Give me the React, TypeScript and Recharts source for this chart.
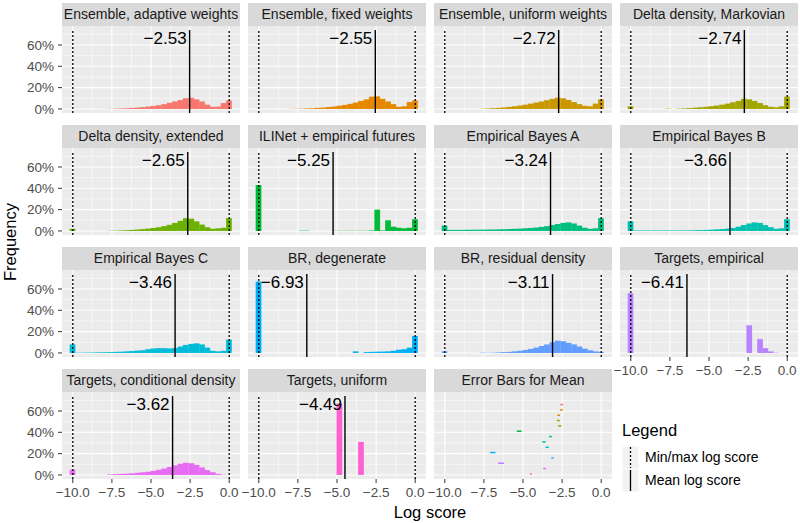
import React from "react";
import {
  ComposedChart,
  Bar,
  XAxis,
  YAxis,
  CartesianGrid,
  ReferenceLine,
  ReferenceDot,
} from "recharts";

// bin centres shared by every histogram (30 bins over [-10, 0])
const binCenters = [
  -10, -9.66, -9.31, -8.97, -8.62, -8.28, -7.93, -7.59, -7.24, -6.9, -6.55, -6.21, -5.86, -5.52, -5.17,
  -4.83, -4.48, -4.14, -3.79, -3.45, -3.1, -2.76, -2.41, -2.07, -1.72, -1.38, -1.03, -0.69, -0.34, 0,
];

const modelNames = [
  "Ensemble, adaptive weights",
  "Ensemble, fixed weights",
  "Ensemble, uniform weights",
  "Delta density, Markovian",
  "Delta density, extended",
  "ILINet + empirical futures",
  "Empirical Bayes A",
  "Empirical Bayes B",
  "Empirical Bayes C",
  "BR, degenerate",
  "BR, residual density",
  "Targets, empirical",
  "Targets, conditional density",
  "Targets, uniform",
];

const meanScores = [-2.53, -2.55, -2.72, -2.74, -2.65, -5.25, -3.24, -3.66, -3.46, -6.93, -3.11, -6.41, -3.62, -4.49];

const modelColors = [
  "#F8766D", "#E58700", "#C99800", "#A3A500", "#6BB100", "#00BA38", "#00BF7D",
  "#00C0AF", "#00BCD8", "#00B0F6", "#619CFF", "#B983FF", "#E76BF3", "#FD61D1",
];

// frequency per bin, percent
const adaptiveWeights = [0, 0, 0, 0, 0, 0, 0.1, 0.2, 0.3, 0.5, 0.7, 1.0, 1.3, 1.7, 2.2, 2.8, 3.5, 4.5, 5.8, 7.0, 8.3, 10.0, 10.5, 9.0, 7.0, 4.0, 2.0, 2.2, 5.5, 8.0];
const fixedWeights = [0, 0, 0, 0, 0, 0, 0.1, 0.2, 0.3, 0.5, 0.7, 1.0, 1.3, 1.8, 2.3, 3.0, 3.8, 4.8, 6.0, 7.5, 9.0, 11.5, 11.8, 9.5, 7.0, 4.5, 2.0, 2.5, 6.5, 8.0];
const uniformWeights = [0, 0, 0, 0, 0, 0, 0, 0.2, 0.4, 0.7, 1.0, 1.4, 1.9, 2.5, 3.2, 4.0, 5.0, 6.0, 7.0, 8.2, 9.5, 10.5, 10.0, 8.5, 6.5, 4.5, 3.0, 2.5, 5.0, 9.0];
const deltaMarkovian = [2.5, 0, 0, 0, 0, 0, 0, 0.3, 0, 0.3, 0.5, 0.8, 1.2, 1.6, 2.0, 2.6, 3.2, 4.0, 5.0, 6.2, 7.5, 9.5, 9.0, 7.5, 5.5, 3.5, 2.0, 1.5, 2.5, 11.5];
const deltaExtended = [2, 0, 0, 0, 0, 0, 0, 0.2, 0.3, 0.5, 0.7, 1.0, 1.3, 1.7, 2.2, 2.8, 3.5, 4.5, 5.8, 7.5, 9.5, 12.0, 11.5, 9.0, 6.0, 3.5, 2.0, 2.5, 3.0, 12.0];
const ilinetFutures = [43, 0, 0, 0, 0, 0, 0, 0, 0.3, 0.3, 0, 0, 0, 0, 0.2, 0.2, 0.2, 0.2, 0.2, 0.2, 0.2, 0.5, 20, 0.5, 10, 4, 3, 2.5, 3, 11];
const empiricalBayesA = [5, 1.0, 1.0, 1.0, 1.1, 1.1, 1.2, 1.2, 1.3, 1.4, 1.5, 1.6, 1.8, 2.0, 2.2, 2.5, 2.8, 3.2, 3.8, 4.5, 5.5, 6.5, 7.5, 8.0, 7.0, 5.0, 3.0, 2.0, 2.5, 12.0];
const empiricalBayesB = [9, 0.5, 0.5, 0.5, 0.5, 0.5, 0.5, 0.5, 0.5, 0.5, 0.5, 0.6, 0.7, 0.8, 1.0, 1.2, 1.5, 1.8, 2.2, 2.8, 4.0, 5.5, 7.0, 8.0, 7.5, 5.5, 3.5, 2.0, 2.5, 11];
const empiricalBayesC = [8, 0.3, 0.3, 0.4, 0.5, 0.6, 0.7, 0.8, 1.0, 1.2, 1.5, 1.8, 2.2, 2.5, 3.5, 4.2, 4.5, 4.5, 4.2, 4.5, 6.0, 7.5, 8.5, 9.0, 8.0, 5.0, 2.0, 1.5, 2.0, 12.5];
const brDegenerate = [67, 0, 0, 0, 0, 0, 0, 0, 0, 0, 0, 0, 0, 0, 0, 0, 0, 0, 1.5, 0, 0.8, 1.0, 1.2, 1.3, 1.5, 2.0, 3.0, 3.5, 5.0, 16];
const brResidual = [1.5, 0, 0, 0, 0, 0, 0, 0.3, 0.2, 0.3, 0.5, 0.8, 1.0, 1.5, 2.0, 2.8, 3.8, 5.0, 6.5, 8.0, 10.0, 11.5, 11.0, 9.5, 8.0, 6.0, 4.0, 2.5, 1.5, 1.0];
const targetsEmpirical = [56, 0, 0, 0, 0, 0, 0, 0, 0, 0, 0, 0, 0, 0, 0, 0, 0, 0, 0, 0, 0, 0, 26, 0, 13, 4.5, 1.5, 0.3, 0, 0];
const targetsConditional = [5, 0, 0, 0, 0, 0, 0, 0.5, 0.8, 1.0, 1.2, 1.5, 2.0, 2.5, 3.0, 3.8, 4.8, 6.0, 7.5, 9.0, 10.5, 11.5, 11.0, 9.5, 7.0, 4.5, 2.5, 1.0, 0.3, 0];
const targetsUniform = [0, 0, 0, 0, 0, 0, 0, 0, 0, 0, 0, 0, 0, 0, 0, 67, 0, 0, 0, 31, 0, 0, 0, 0, 0, 0, 0, 0, 0, 0];

const histograms = [
  adaptiveWeights, fixedWeights, uniformWeights, deltaMarkovian, deltaExtended, ilinetFutures,
  empiricalBayesA, empiricalBayesB, empiricalBayesC, brDegenerate, brResidual, targetsEmpirical,
  targetsConditional, targetsUniform,
];

// error bars panel: interval ends and vertical level of each model
const errorLow = [-2.62, -2.64, -2.81, -2.84, -2.75, -5.4, -3.33, -3.77, -3.56, -7.1, -3.19, -6.6, -3.71, -4.55];
const errorHigh = [-2.44, -2.46, -2.63, -2.64, -2.55, -5.1, -3.15, -3.55, -3.36, -6.76, -3.03, -6.22, -3.53, -4.43];
const errorLevel = [0.66, 0.61, 0.56, 0.51, 0.46, 0.41, 0.36, 0.31, 0.26, 0.21, 0.16, 0.11, 0.06, 0.01];

const xTicks = [-10, -7.5, -5, -2.5, 0];
const xMinor = [-8.75, -6.25, -3.75, -1.25];
const yTicks = [0, 0.2, 0.4, 0.6];
const yMinor = [0.1, 0.3, 0.5, 0.7];

const X_DOMAIN: [number, number] = [-10.69, 0.69];
const Y_DOMAIN: [number, number] = [-0.038, 0.778];
const LINE_TOP = 0.74;
const LABEL_Y = 0.67;

const FONT = '"Liberation Sans", Arial, Helvetica, sans-serif';
const COL_LEFT = [62, 248, 434, 620];
const ROW_TOP = [2.5, 124.5, 246.5, 368.5];
const PANEL_W = 178;
const PANEL_H = 87;
const STRIP_H = 23;
const Y_AXIS_W = 62;
const X_AXIS_H = 26;
const PAD_BOTTOM = 9; // room for the "0%" label when there is no x axis
const PAD_SIDE = 20; // room for the end tick labels of an x axis
const BIN_PX = ((10 / 29) * PANEL_W) / (X_DOMAIN[1] - X_DOMAIN[0]);

const minus = (s: string) => s.replace("-", "\u2212");

// histogram bars: recharts shrinks them to 90% of the bin, so widen back to the full bin
function HistBar(props: any) {
  const { x, y, width, height, fill } = props;
  if (!height || height <= 0) return null;
  const cx = x + width / 2;
  const w = BIN_PX + 0.3;
  return <rect x={cx - w / 2} y={y} width={w} height={height} fill={fill} />;
}

function Strip({ col, row, title }: { col: number; row: number; title: string }) {
  return (
    <div
      style={{
        position: "absolute",
        left: COL_LEFT[col],
        top: ROW_TOP[row],
        width: PANEL_W,
        height: STRIP_H,
        background: "#D9D9D9",
        color: "#1A1A1A",
        fontSize: 14,
        display: "flex",
        alignItems: "center",
        justifyContent: "center",
        whiteSpace: "nowrap",
      }}
    >
      {title}
    </div>
  );
}

function Panel({ idx, col, row, showX, showY }: { idx: number; col: number; row: number; showX: boolean; showY: boolean }) {
  const isErrorPanel = idx === 14;
  const values = isErrorPanel ? [] : histograms[idx];
  const data = binCenters.map((x, i) => ({ x, freq: isErrorPanel ? 0 : values[i] / 100 }));
  const color = isErrorPanel ? "#000" : modelColors[idx];
  const padLeft = showY ? 0 : showX ? PAD_SIDE : 0;
  const padRight = showX ? PAD_SIDE : 0;
  const padBottom = showX ? 0 : PAD_BOTTOM;
  const width = PANEL_W + (showY ? Y_AXIS_W : 0) + padLeft + padRight;
  const height = PANEL_H + (showX ? X_AXIS_H : padBottom);

  return (
    <>
      <Strip col={col} row={row} title={isErrorPanel ? "Error Bars for Mean" : modelNames[idx]} />
      <div style={{ position: "absolute", left: COL_LEFT[col] - (showY ? Y_AXIS_W : 0) - padLeft, top: ROW_TOP[row] + STRIP_H }}>
        <ComposedChart
          width={width}
          height={height}
          data={data}
          margin={{ top: 0, right: padRight, bottom: padBottom, left: padLeft }}
        >
          <CartesianGrid fill="#EBEBEB" stroke="#FFFFFF" strokeWidth={0.55} horizontalValues={yMinor} verticalValues={xMinor} />
          <CartesianGrid stroke="#FFFFFF" strokeWidth={1.1} horizontalValues={yTicks} verticalValues={xTicks} />
          <XAxis
            type="number"
            dataKey="x"
            domain={X_DOMAIN}
            allowDataOverflow
            ticks={xTicks}
            interval={0}
            hide={!showX}
            height={X_AXIS_H}
            axisLine={false}
            tickSize={4}
            tickMargin={4}
            tickLine={{ stroke: "#333333" }}
            tick={{ fill: "#4D4D4D", fontSize: 13.5, fontFamily: FONT }}
            tickFormatter={(v: number) => minus(v.toFixed(1))}
          />
          <YAxis
            type="number"
            domain={Y_DOMAIN}
            allowDataOverflow
            ticks={yTicks}
            interval={0}
            hide={!showY}
            width={Y_AXIS_W}
            axisLine={false}
            tickSize={4}
            tickMargin={4}
            tickLine={{ stroke: "#333333" }}
            tick={{ fill: "#4D4D4D", fontSize: 13.5, fontFamily: FONT }}
            tickFormatter={(v: number) => `${Math.round(v * 100)}%`}
          />
          {!isErrorPanel && (
            <Bar dataKey="freq" fill={color} barSize={BIN_PX} shape={HistBar} isAnimationActive={false} />
          )}
          {!isErrorPanel &&
            [-10, 0].map((x) => (
              <ReferenceLine
                key={x}
                segment={[{ x, y: Y_DOMAIN[0] }, { x, y: LINE_TOP }]}
                stroke="#000"
                strokeWidth={1.3}
                strokeDasharray="2 2"
              />
            ))}
          {!isErrorPanel && (
            <ReferenceLine
              segment={[{ x: meanScores[idx], y: Y_DOMAIN[0] }, { x: meanScores[idx], y: LINE_TOP }]}
              stroke="#000"
              strokeWidth={1.4}
            />
          )}
          {!isErrorPanel && (
            <ReferenceDot
              x={meanScores[idx]}
              y={LABEL_Y}
              r={0}
              fill="none"
              stroke="none"
              label={{
                value: minus(meanScores[idx].toFixed(2)),
                position: "left",
                offset: 3,
                fill: "#000",
                fontSize: 17,
                fontFamily: FONT,
              }}
            />
          )}
          {isErrorPanel &&
            errorLow.map((lo, i) => (
              <ReferenceLine
                key={i}
                segment={[{ x: lo, y: errorLevel[i] }, { x: errorHigh[i], y: errorLevel[i] }]}
                stroke={modelColors[i]}
                strokeWidth={1.5}
              />
            ))}
        </ComposedChart>
      </div>
    </>
  );
}

function LegendBox() {
  const left = COL_LEFT[3] + 2;
  const top = ROW_TOP[3] + 50;
  const keyW = 17;
  const keyH = 23;
  return (
    <div style={{ position: "absolute", left, top, fontFamily: FONT }}>
      <div style={{ fontSize: 16.5, color: "#000", height: 27, lineHeight: "22px" }}>Legend</div>
      {["Min/max log score", "Mean log score"].map((label, i) => (
        <div key={label} style={{ display: "flex", alignItems: "center", height: keyH }}>
          <svg width={keyW} height={keyH}>
            <rect x={0} y={0} width={keyW} height={keyH} fill="#F2F2F2" stroke="#FFFFFF" strokeWidth={1} />
            <line
              x1={keyW / 2}
              x2={keyW / 2}
              y1={1}
              y2={keyH - 1}
              stroke="#000"
              strokeWidth={1.3}
              strokeDasharray={i === 0 ? "2 2" : undefined}
            />
          </svg>
          <span style={{ fontSize: 14, color: "#000", marginLeft: 6 }}>{label}</span>
        </div>
      ))}
    </div>
  );
}

export default function App() {
  const cells = Array.from({ length: 15 }, (_, idx) => idx);
  return (
    <div
      style={{
        position: "absolute",
        left: 0,
        top: 0,
        width: 800,
        height: 523,
        background: "#FFFFFF",
        fontFamily: FONT,
        overflow: "hidden",
      }}
    >
      {cells.map((idx) => {
        const row = Math.floor(idx / 4);
        const col = idx % 4;
        return (
          <Panel key={idx} idx={idx} col={col} row={row} showY={col === 0} showX={row === 3 || idx === 11} />
        );
      })}
      <LegendBox />
      <div
        style={{
          position: "absolute",
          left: 62,
          width: 736,
          top: 503,
          textAlign: "center",
          fontSize: 16.5,
          color: "#000",
        }}
      >
        Log score
      </div>
      <div
        style={{
          position: "absolute",
          left: 10,
          top: 242,
          transform: "translate(-50%, -50%) rotate(-90deg)",
          fontSize: 16.5,
          color: "#000",
          whiteSpace: "nowrap",
        }}
      >
        Frequency
      </div>
    </div>
  );
}
